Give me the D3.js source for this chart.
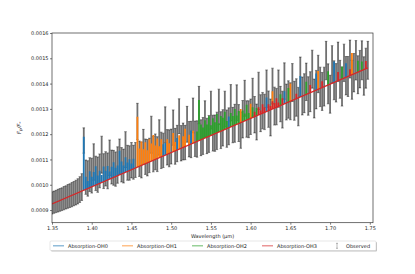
<!DOCTYPE html>
<html>
<head>
<meta charset="utf-8">
<script src="https://cdn.jsdelivr.net/npm/d3@7"></script>
<style>
  body { margin: 0; background: #fff; }
  svg { display: block; font-family: "DejaVu Sans", sans-serif; }
</style>
</head>
<body>
<svg id="chart" width="415" height="274"></svg>
<script>
// observed spectrum (flux ratio in units of 1e-6)
const obsWave = [
  1.35, 1.3525, 1.355, 1.3575, 1.36, 1.3625, 1.365, 1.3675, 1.37, 1.3725,
  1.375, 1.3775, 1.38, 1.3825, 1.385, 1.3875, 1.39, 1.3925, 1.395, 1.3975,
  1.4, 1.4025, 1.405, 1.4075, 1.41, 1.4125, 1.415, 1.4175, 1.42, 1.4225,
  1.425, 1.4275, 1.43, 1.4325, 1.435, 1.4375, 1.44, 1.4425, 1.445, 1.4475,
  1.45, 1.4525, 1.455, 1.4575, 1.46, 1.4625, 1.465, 1.4675, 1.47, 1.4725,
  1.475, 1.4775, 1.48, 1.4825, 1.485, 1.4875, 1.49, 1.4925, 1.495, 1.4975,
  1.5, 1.5025, 1.505, 1.5075, 1.51, 1.5125, 1.515, 1.5175, 1.52, 1.5225,
  1.525, 1.5275, 1.53, 1.5325, 1.535, 1.5375, 1.54, 1.5425, 1.545, 1.5475,
  1.55, 1.5525, 1.555, 1.5575, 1.56, 1.5625, 1.565, 1.5675, 1.57, 1.5725,
  1.575, 1.5775, 1.58, 1.5825, 1.585, 1.5875, 1.59, 1.5925, 1.595, 1.5975,
  1.6, 1.6025, 1.605, 1.6075, 1.61, 1.6125, 1.615, 1.6175, 1.62, 1.6225,
  1.625, 1.6275, 1.63, 1.6325, 1.635, 1.6375, 1.64, 1.6425, 1.645, 1.6475,
  1.65, 1.6525, 1.655, 1.6575, 1.66, 1.6625, 1.665, 1.6675, 1.67, 1.6725,
  1.675, 1.6775, 1.68, 1.6825, 1.685, 1.6875, 1.69, 1.6925, 1.695, 1.6975,
  1.7, 1.7025, 1.705, 1.7075, 1.71, 1.7125, 1.715, 1.7175, 1.72, 1.7225,
  1.725, 1.7275, 1.73, 1.7325, 1.735, 1.7375, 1.74, 1.7425, 1.745, 1.7475
];
const obsFlux = [
  928, 931, 934, 937, 940, 943, 947, 950, 954, 957,
  961, 965, 969, 974, 981, 991, 1175, 1030, 1025, 1040,
  1036, 1090, 1045, 1040, 1055, 1119, 1054, 1063, 1055, 1107,
  1070, 1067, 1062, 1078, 1111, 1079, 1074, 1139, 1087, 1086,
  1097, 1089, 1098, 1250, 1103, 1098, 1150, 1111, 1107, 1116,
  1198, 1121, 1130, 1121, 1187, 1136, 1136, 1237, 1148, 1144,
  1151, 1226, 1152, 1163, 1271, 1164, 1171, 1167, 1239, 1180,
  1179, 1274, 1182, 1181, 1315, 1186, 1193, 1260, 1193, 1201,
  1295, 1204, 1204, 1213, 1308, 1216, 1225, 1299, 1222, 1231,
  1324, 1236, 1243, 1324, 1244, 1216, 1259, 1342, 1260, 1259,
  1269, 1346, 1277, 1248, 1371, 1283, 1293, 1288, 1380, 1299,
  1266, 1390, 1311, 1309, 1380, 1319, 1297, 1410, 1327, 1337,
  1330, 1404, 1332, 1345, 1309, 1427, 1351, 1362, 1407, 1351,
  1368, 1457, 1341, 1376, 1438, 1387, 1369, 1388, 1491, 1399,
  1358, 1476, 1413, 1403, 1486, 1417, 1388, 1482, 1431, 1428,
  1497, 1415, 1443, 1492, 1435, 1457, 1492, 1430, 1461, 1492
];
const obsErr = [
  44, 44, 44, 45, 45, 45, 46, 46, 47, 47, 48, 48, 49, 50, 51, 53,
  50,
  68, 70, 67, 69, 72, 68, 70, 67, 73, 69, 68, 71, 70, 67, 69, 68, 72, 70, 68, 67,
  71, 69, 68, 70, 67, 69,
  72, 70, 71, 69, 70, 72, 68, 73, 70, 71, 69, 70, 72, 68, 71, 70, 73, 69, 70, 71,
  72, 69, 70, 73, 68, 71, 70, 72, 69, 70,
  72, 74, 71, 73, 72, 70, 73, 75, 71, 72, 74, 70, 73, 72, 71, 74, 73, 72, 70, 75,
  71, 73, 72, 74, 71, 72, 73, 70, 75, 72, 71, 74, 73, 72, 70, 74, 72, 73, 71, 75,
  72, 74, 70, 73, 72, 71, 74, 73,
  75, 77, 74, 76, 78, 75, 77, 74, 76, 79, 75, 77, 76, 74, 78, 75, 77, 76, 79, 75,
  74, 77, 76, 78, 75, 77, 74, 76, 79, 75, 77, 76, 78, 75, 74, 77, 76, 79, 75
];

// model continuum (straight line) shared by all absorption models
const modelWave = [1.35, 1.7475];
const modelFlux = [924, 1462];

// absorption features of each model (peak flux, 1e-6)
const oh0Wave = [1.39, 1.3925, 1.395, 1.3975, 1.4, 1.4025, 1.405, 1.4075, 1.41, 1.4125,
  1.415, 1.4175, 1.42, 1.4225, 1.425, 1.4275, 1.43, 1.4325, 1.435, 1.4375,
  1.44, 1.4425, 1.445, 1.4475, 1.45, 1.4525,
  1.49, 1.4925, 1.5075, 1.525, 1.5725, 1.62, 1.6425, 1.6625, 1.6825, 1.705, 1.72];
const oh0Flux = [1190, 1032, 1015, 1053, 1032, 1050, 1073, 1037, 1055, 1039,
  1072, 1055, 1074, 1052, 1071, 1089, 1067, 1076, 1134, 1092,
  1076, 1109, 1088, 1101, 1084, 1103,
  1160, 1165, 1185, 1215, 1270, 1345, 1370, 1430, 1440, 1487, 1480];

const oh1Wave = [1.4575, 1.46, 1.4625, 1.465, 1.4675, 1.47, 1.4725, 1.475, 1.4775, 1.48,
  1.4825, 1.485, 1.4875, 1.495, 1.4975, 1.5025, 1.505, 1.51, 1.515, 1.5175,
  1.5225, 1.5275, 1.5875, 1.6, 1.6275, 1.65, 1.685, 1.7275];
const oh1Flux = [1269, 1143, 1171, 1140, 1168, 1136, 1180, 1163, 1197, 1155,
  1183, 1152, 1180, 1180, 1164, 1205, 1169, 1196, 1192, 1221,
  1198, 1214, 1300, 1320, 1370, 1400, 1450, 1521];

const oh2Wave = [1.5325, 1.535, 1.5375, 1.54, 1.5425, 1.545, 1.5475, 1.55, 1.5525, 1.555,
  1.5575, 1.56, 1.5625, 1.565, 1.5675, 1.57, 1.575, 1.5775, 1.58, 1.5825,
  1.585, 1.59, 1.5925, 1.595, 1.5975, 1.6025, 1.6075,
  1.6375, 1.6475, 1.67, 1.6975, 1.715, 1.735, 1.74];
const oh2Flux = [1211, 1335, 1238, 1226, 1255, 1238, 1271, 1235, 1263, 1247,
  1280, 1243, 1272, 1265, 1289, 1252, 1284, 1272, 1300, 1274,
  1292, 1294, 1282, 1316, 1284, 1306, 1303,
  1358, 1383, 1407, 1449, 1468, 1490, 1487];

const oh3Wave = [1.605, 1.61, 1.6125, 1.615, 1.6175, 1.6225, 1.625, 1.6275, 1.63, 1.6325,
  1.635, 1.64, 1.6575, 1.675, 1.69, 1.71, 1.725, 1.745];
const oh3Flux = [1289, 1306, 1294, 1318, 1306, 1318, 1311, 1330, 1323, 1342,
  1325, 1342, 1360, 1394, 1409, 1446, 1457, 1489];

const seriesNames = ["Absorption-OH0", "Absorption-OH1", "Absorption-OH2", "Absorption-OH3"];
const seriesColors = ["#1f77b4", "#ff7f0e", "#2ca02c", "#d62728"];
const xTicks = [1.35, 1.40, 1.45, 1.50, 1.55, 1.60, 1.65, 1.70, 1.75];
const yTicks = [0.0009, 0.0010, 0.0011, 0.0012, 0.0013, 0.0014, 0.0015, 0.0016];

const U = 1e-6;
const plot = { left: 52, right: 373, top: 33, bottom: 222.7 };

const svg = d3.select("#chart");

const x = d3.scaleLinear().domain([1.35, 1.754]).range([plot.left, plot.right]);
const y = d3.scaleLinear().domain([0.00085, 0.0016]).range([plot.bottom, plot.top]);
const continuum = d3.scaleLinear().domain(modelWave).range(modelFlux);

svg.append("clipPath").attr("id", "clip")
  .append("rect")
  .attr("x", plot.left).attr("y", plot.top)
  .attr("width", plot.right - plot.left).attr("height", plot.bottom - plot.top);

const body = svg.append("g").attr("clip-path", "url(#clip)");

// Observed error bars
const obs = obsWave.map((w, i) => ({ w, f: obsFlux[i] * U, e: obsErr[i] * U }));
const eb = body.append("g")
  .attr("stroke", "#000")
  .attr("stroke-opacity", 0.56);
eb.selectAll("line.bar")
  .data(obs)
  .join("line")
  .attr("class", "bar")
  .attr("x1", d => x(d.w)).attr("x2", d => x(d.w))
  .attr("y1", d => y(d.f - d.e)).attr("y2", d => y(d.f + d.e))
  .attr("stroke-width", 1.8);
eb.selectAll("line.capTop")
  .data(obs)
  .join("line")
  .attr("class", "capTop")
  .attr("x1", d => x(d.w) - 1.3).attr("x2", d => x(d.w) + 1.3)
  .attr("y1", d => y(d.f + d.e)).attr("y2", d => y(d.f + d.e))
  .attr("stroke-width", 0.7);
eb.selectAll("line.capBot")
  .data(obs)
  .join("line")
  .attr("class", "capBot")
  .attr("x1", d => x(d.w) - 1.3).attr("x2", d => x(d.w) + 1.3)
  .attr("y1", d => y(d.f - d.e)).attr("y2", d => y(d.f - d.e))
  .attr("stroke-width", 0.7);

// Absorption model features
const groups = [
  { wave: oh0Wave, flux: oh0Flux },
  { wave: oh1Wave, flux: oh1Flux },
  { wave: oh2Wave, flux: oh2Flux },
  { wave: oh3Wave, flux: oh3Flux }
];
groups.forEach((g, k) => {
  body.append("g")
    .selectAll("line")
    .data(g.wave.map((w, i) => ({ w, f: g.flux[i] * U })))
    .join("line")
    .attr("x1", d => x(d.w)).attr("x2", d => x(d.w))
    .attr("y1", d => y(continuum(d.w) * U)).attr("y2", d => y(d.f))
    .attr("stroke", seriesColors[k])
    .attr("stroke-width", 1.8);
});

// model continuum line
body.append("path")
  .datum(modelWave.map((w, i) => [w, modelFlux[i] * U]))
  .attr("fill", "none")
  .attr("stroke", seriesColors[3])
  .attr("stroke-width", 1.2)
  .attr("d", d3.line().x(d => x(d[0])).y(d => y(d[1])));

// Axes
const xAxis = svg.append("g")
  .attr("transform", `translate(0, ${plot.bottom})`)
  .call(d3.axisBottom(x).tickValues(xTicks).tickFormat(d3.format(".2f")).tickSize(2).tickPadding(1.5));
const yAxis = svg.append("g")
  .attr("transform", `translate(${plot.left}, 0)`)
  .call(d3.axisLeft(y).tickValues(yTicks).tickFormat(d3.format(".4f")).tickSize(2).tickPadding(1.5));
[xAxis, yAxis].forEach(a => {
  a.select(".domain").remove();
  a.selectAll("line").attr("stroke", "#222").attr("stroke-width", 0.6);
  a.selectAll("text").attr("font-size", 5).attr("fill", "#222")
    .attr("font-family", "DejaVu Sans, sans-serif");
});

svg.append("rect")
  .attr("x", plot.left).attr("y", plot.top)
  .attr("width", plot.right - plot.left).attr("height", plot.bottom - plot.top)
  .attr("fill", "none").attr("stroke", "#333").attr("stroke-width", 0.7);

// Axis labels
svg.append("text")
  .attr("x", (plot.left + plot.right) / 2)
  .attr("y", 237.5)
  .attr("text-anchor", "middle")
  .attr("font-size", 5)
  .attr("fill", "#222")
  .text("Wavelength (μm)");

const yl = svg.append("text")
  .attr("transform", `translate(21, ${(plot.top + plot.bottom) / 2}) rotate(-90)`)
  .attr("text-anchor", "middle")
  .attr("font-size", 5.5)
  .attr("font-style", "italic")
  .attr("fill", "#222");
yl.append("tspan").text("F");
yl.append("tspan").attr("font-size", 4).attr("dy", 1.2).text("p");
yl.append("tspan").attr("dy", -1.2).text("/F");
yl.append("tspan").attr("font-size", 4).attr("dy", 1.2).text("*");

// Legend
const legend = svg.append("g");
legend.append("rect")
  .attr("x", 51).attr("y", 242).attr("width", 326).attr("height", 9.5)
  .attr("rx", 1).attr("fill", "#999").attr("opacity", 0.6);
legend.append("rect")
  .attr("x", 50).attr("y", 241).attr("width", 326).attr("height", 9.5)
  .attr("rx", 1).attr("fill", "#fff").attr("stroke", "#ccc").attr("stroke-width", 0.5);

const legendX = [53, 122, 192, 262];
const legendY = 245.8;
seriesNames.forEach((name, k) => {
  legend.append("line")
    .attr("x1", legendX[k]).attr("x2", legendX[k] + 11)
    .attr("y1", legendY).attr("y2", legendY)
    .attr("stroke", seriesColors[k]).attr("stroke-width", 1.2).attr("opacity", 0.6);
  legend.append("text")
    .attr("x", legendX[k] + 15).attr("y", legendY + 1.8)
    .attr("font-size", 5).attr("fill", "#222")
    .text(name);
});
const ox = 337;
legend.append("g").attr("stroke", "#000").attr("stroke-opacity", 0.45).attr("stroke-width", 0.6)
  .call(g => {
    g.append("line").attr("x1", ox).attr("x2", ox).attr("y1", legendY - 2.5).attr("y2", legendY + 2.5);
    g.append("line").attr("x1", ox - 1).attr("x2", ox + 1).attr("y1", legendY - 2.5).attr("y2", legendY - 2.5);
    g.append("line").attr("x1", ox - 1).attr("x2", ox + 1).attr("y1", legendY + 2.5).attr("y2", legendY + 2.5);
  });
legend.append("text")
  .attr("x", 346).attr("y", legendY + 1.8)
  .attr("font-size", 5).attr("fill", "#222")
  .text("Observed");
</script>
</body>
</html>
